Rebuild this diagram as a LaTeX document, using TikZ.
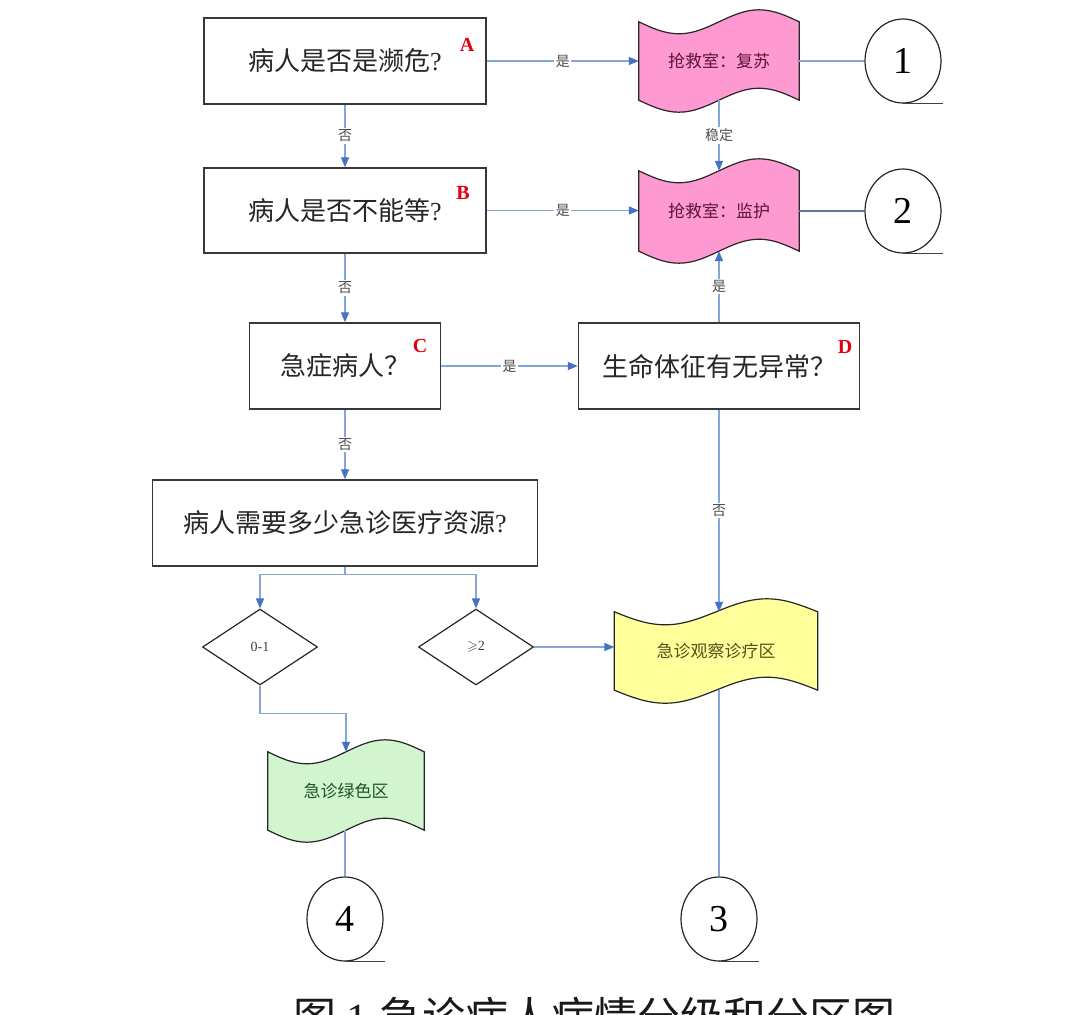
\documentclass[tikz,border=0pt]{standalone}
\usepackage{fontspec}
\usepackage{amssymb}
\setmainfont{Liberation Serif}
\newfontfamily\cjk{Noto Sans CJK SC}
\usetikzlibrary{shapes.geometric,arrows.meta,calc,backgrounds}

\definecolor{linkblue}{HTML}{86A6DA}
\definecolor{tipblue}{HTML}{4472C4}
\definecolor{pinkfill}{HTML}{FF99D2}
\definecolor{yellowfill}{HTML}{FFFF9C}
\definecolor{greenfill}{HTML}{D2F4CE}
\definecolor{lettered}{HTML}{E00010}

\newcommand\tapeshape[3]{%
  \draw[tapeline, fill=#2] let \p1=(#1.north west), \p2=(#1.south east), \n1={(\x2-\x1)/4} in
    (\x1,\y1) sin ({\x1+\n1*1pt},{\y1-#3}) cos ({\x1+2*\n1*1pt},\y1)
      sin ({\x1+3*\n1*1pt},{\y1+#3}) cos (\x2,\y1)
    -- (\x2,\y2) sin ({\x2-\n1*1pt},{\y2+#3}) cos ({\x2-2*\n1*1pt},\y2)
      sin ({\x2-3*\n1*1pt},{\y2-#3}) cos (\x1,\y2) -- cycle;}

\begin{document}
\begin{tikzpicture}[x=1pt,y=-1pt,
  box/.style={draw=black!78, line width=1.5pt, fill=white, inner sep=0pt,
    font=\cjk\fontsize{26}{30}\selectfont, text=black!85},
  tapebox/.style={inner sep=0pt, font=\cjk\fontsize{17}{20}\selectfont},
  tapeline/.style={draw=black!85, line width=1.2pt},
  letter/.style={font=\bfseries\fontsize{20}{20}\selectfont, text=lettered, inner sep=0pt},
  endcirc/.style={ellipse, draw=black!85, line width=1.2pt, minimum width=76pt, minimum height=84pt,
    inner sep=0pt, font=\fontsize{38}{38}\selectfont},
  tail/.style={draw=black!75, line width=1.2pt},
  dia/.style={diamond, draw=black!85, line width=1.2pt, minimum width=115pt, minimum height=76pt,
    inner sep=0pt, font=\fontsize{14}{14}\selectfont, text=black!75},
  arr/.style={draw=linkblue, line width=1.4pt, -{Triangle[length=10pt,width=8pt,color=tipblue]}},
  link/.style={draw=linkblue, line width=1.4pt},
  lbl/.style={fill=white, inner sep=1.5pt, font=\cjk\fontsize{14}{14}\selectfont, text=black!70},
]
\useasboundingbox (0,0) rectangle (1088,1015);

% decision boxes
\node[box, minimum width=282pt, minimum height=86pt] (A) at (345,61) {病人是否是濒危{\rmfamily ?}};
\node[box, minimum width=282pt, minimum height=85pt] (B) at (345,210.5) {病人是否不能等{\rmfamily ?}};
\node[box, minimum width=191pt, minimum height=86pt] (C) at (345,366) {急症病人？};
\node[box, minimum width=281pt, minimum height=86pt] (D) at (719,366) {生命体征有无异常？};
\node[box, minimum width=385pt, minimum height=86pt] (E) at (345,523) {病人需要多少急诊医疗资源{\rmfamily ?}};

\node[letter] (LA) at (467,45) {A};
\node[letter] (LB) at (463,193) {B};
\node[letter] (LC) at (420,346) {C};
\node[letter] (LD) at (845,347) {D};

% tape shapes
\node[tapebox, minimum width=160pt, minimum height=78pt, text={rgb,255:red,90;green,20;blue,55}] (P1) at (719,61) {抢救室：复苏};
\node[tapebox, minimum width=160pt, minimum height=80pt, text={rgb,255:red,90;green,20;blue,55}] (P2) at (719,211) {抢救室：监护};
\node[tapebox, minimum width=203pt, minimum height=78pt, text={rgb,255:red,85;green,80;blue,20}] (Y) at (716,651) {急诊观察诊疗区};
\node[tapebox, minimum width=156pt, minimum height=78pt, text={rgb,255:red,30;green,85;blue,35}] (G) at (346,791) {急诊绿色区};

\begin{scope}[on background layer]
  \fill[white] (0,0) rectangle (1088,1015);
  \tapeshape{P1}{pinkfill}{12pt}
  \tapeshape{P2}{pinkfill}{12pt}
  \tapeshape{Y}{yellowfill}{13pt}
  \tapeshape{G}{greenfill}{12pt}
\end{scope}

% diamonds
\node[dia] (D1) at (260,647) {0-1};
\node[dia] (D2) at (476,647) {$\geqslant$2};

% end circles
\node[endcirc] (C1) at (903,61) {1};
\node[endcirc] (C2) at (903,211) {2};
\node[endcirc] (C3) at (719,919) {3};
\node[endcirc] (C4) at (345,919) {4};
\draw[tail] (C1.south) -- ++(40,0);
\draw[tail] (C2.south) -- ++(40,0);
\draw[tail] (C3.south) -- ++(40,0);
\draw[tail] (C4.south) -- ++(40,0);

% connectors
\draw[arr] (A.east) -- node[lbl]{是} (P1.west);
\draw[arr] (A.south) -- node[lbl]{否} (B.north);
\draw[link] (P1.east) -- (C1.west);
\draw[arr] (P1.south) -- node[lbl]{稳定} (P2.north);
\draw[arr] (B.east) -- node[lbl]{是} (B.east -| P2.west);
\draw[link, line width=1.1pt, draw=linkblue!70!black] (P2.east) -- (C2.west);
\draw[arr] (B.south) -- node[lbl]{否} (C.north);
\draw[arr] (C.east) -- node[lbl]{是} (D.west);
\draw[arr] (D.north) -- node[lbl]{是} (P2.south);
\draw[arr] (D.south) -- node[lbl]{否} (D.south |- Y.north);
\draw[arr] (C.south) -- node[lbl]{否} (E.north);
\draw[arr] (E.south) -- ++(0,8) -| (D1.north);
\draw[arr] (E.south) -- ++(0,8) -| (D2.north);
\draw[arr] (D2.east) -- (D2.east -| Y.west);
\draw[arr] (D1.south) -- ++(0,28) -| (G.north);
\draw[link] (G.south -| C4.north) -- (C4.north);
\draw[link] (C3.north |- Y.south) -- (C3.north);

% caption (cut off at the lower edge, as in the reference)
\begin{scope}
  \clip (0,0) rectangle (1088,1015);
  \node[anchor=base west, inner sep=0pt, font=\fontsize{43}{43}\selectfont, text=black!90] (CAP) at (293,1033)
    {{\cjk 图} 1 {\cjk 急诊病人病情分级和分区图}};
\end{scope}
\end{tikzpicture}
\end{document}
